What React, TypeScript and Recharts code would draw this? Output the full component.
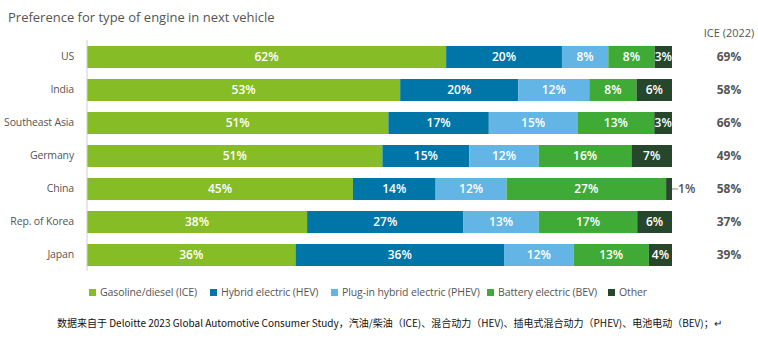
import React from "react";
import { BarChart, Bar, XAxis, YAxis, LabelList } from "recharts";

const categories = ["US", "India", "Southeast Asia", "Germany", "China", "Rep. of Korea", "Japan"];
const ice = [62, 53, 51, 51, 45, 38, 36];
const hev = [20, 20, 17, 15, 14, 27, 36];
const phev = [8, 12, 15, 12, 12, 13, 12];
const bev = [8, 8, 13, 16, 27, 17, 13];
const other = [3, 6, 3, 7, 1, 6, 4];
const ice2022 = [69, 58, 66, 49, 58, 37, 39];

const seriesKeys = ["ice", "hev", "phev", "bev", "other"];
const seriesNames = [
  "Gasoline/diesel (ICE)",
  "Hybrid electric (HEV)",
  "Plug-in hybrid electric (PHEV)",
  "Battery electric (BEV)",
  "Other",
];
const colors = ["#86BC25", "#0076A8", "#62B5E5", "#3FAA35", "#26472C"];

const data = categories.map((c, i) => ({
  name: c,
  ice: ice[i],
  hev: hev[i],
  phev: phev[i],
  bev: bev[i],
  other: other[i],
  ice2022: ice2022[i],
}));

const FONT = "'Open Sans', sans-serif";

const W = 758;
const H = 339;

const makeLabel = (key: string) => (props: any) => {
  const { x, y, width, height, value } = props;
  const cx = x + width / 2;
  const cy = y + height / 2;
  return (
    <text
      x={cx}
      y={cy}
      dy="0.35em"
      textAnchor="middle"
      fill="#fff"
      fontSize={12}
      fontWeight={600}
      fontFamily={FONT}
    >
      {value}%
    </text>
  );
};

const otherLabel = (props: any) => {
  const { x, y, width, height, value, index } = props;
  const cy = y + height / 2;
  const right = x + width;
  const els: any[] = [];
  if (value < 2) {
    els.push(
      <line key="l" x1={right} y1={cy} x2={right + 6} y2={cy} stroke="#888" strokeWidth={1} />
    );
    els.push(
      <text key="t" x={right + 6} y={cy} dy="0.35em" textAnchor="start" fill="#555" fontSize={12} fontWeight={600} fontFamily={FONT}>
        {value}%
      </text>
    );
  } else {
    els.push(
      <text key="t" x={x + width / 2} y={cy} dy="0.35em" textAnchor="middle" fill="#fff" fontSize={12} fontWeight={600} fontFamily={FONT}>
        {value}%
      </text>
    );
  }
  els.push(
    <text key="r" x={729} y={cy} dy="0.35em" textAnchor="middle" fill="#555" fontSize={12} fontWeight={700} fontFamily={FONT}>
      {ice2022[index]}%
    </text>
  );
  return <g>{els}</g>;
};

const CatTick = (props: any) => {
  const { x, y, payload } = props;
  return (
    <text x={x} y={y} dy="0.35em" textAnchor="end" fill="#555" fontSize={10.5} letterSpacing={-0.15} fontFamily={FONT}>
      {payload.value}
    </text>
  );
};

const legendX = [89, 210, 331, 487, 608];

export default function App() {
  return (
    <div style={{ position: "absolute", left: 0, top: 0, width: W, height: H, background: "#fff" }}>
      <div
        style={{
          position: "absolute",
          left: 8,
          top: 8,
          fontFamily: FONT,
          fontSize: 13,
          color: "#555",
          whiteSpace: "nowrap",
        }}
      >
        Preference for type of engine in next vehicle
      </div>
      <div
        style={{
          position: "absolute",
          left: 689,
          width: 80,
          top: 25,
          textAlign: "center",
          fontFamily: FONT,
          fontSize: 11,
          color: "#555",
          whiteSpace: "nowrap",
        }}
      >
        ICE (2022)
      </div>
      <BarChart
        width={W}
        height={H}
        data={data}
        layout="vertical"
        stackOffset="expand"
        barSize={22}
        margin={{ top: 40, right: 86, bottom: 68, left: 0 }}
        style={{ position: "absolute", left: 0, top: 0 }}
      >
        <XAxis type="number" hide domain={[0, 1]} />
        <YAxis
          type="category"
          dataKey="name"
          width={87}
          tickLine={false}
          axisLine={{ stroke: "#d0d0d0" }}
          tick={<CatTick />}
          tickMargin={7}
        />
        {seriesKeys.map((k, i) => (
          <Bar key={k} dataKey={k} stackId="a" fill={colors[i]} isAnimationActive={false}>
            <LabelList dataKey={k} content={k === "other" ? otherLabel : makeLabel(k)} />
          </Bar>
        ))}
      </BarChart>
      {seriesNames.map((n, i) => (
        <div
          key={n}
          style={{
            position: "absolute",
            left: legendX[i],
            top: 285,
            display: "flex",
            alignItems: "center",
            fontFamily: FONT,
            fontSize: 10.5,
            color: "#555",
            whiteSpace: "nowrap",
            letterSpacing: -0.1,
          }}
        >
          <span style={{ display: "inline-block", width: 7, height: 7, background: colors[i], marginRight: 4 }} />
          {n}
        </div>
      ))}
      <div
        style={{
          position: "absolute",
          left: 57,
          top: 315,
          fontFamily: "'Noto Sans CJK SC', sans-serif",
          fontSize: 10,
          color: "#111",
          whiteSpace: "nowrap",
        }}
      >
        数据来自于 Deloitte 2023 Global Automotive Consumer Study，汽油/柴油（ICE)、混合动力（HEV)、插电式混合动力（PHEV)、电池电动（BEV)；↵
      </div>
    </div>
  );
}
